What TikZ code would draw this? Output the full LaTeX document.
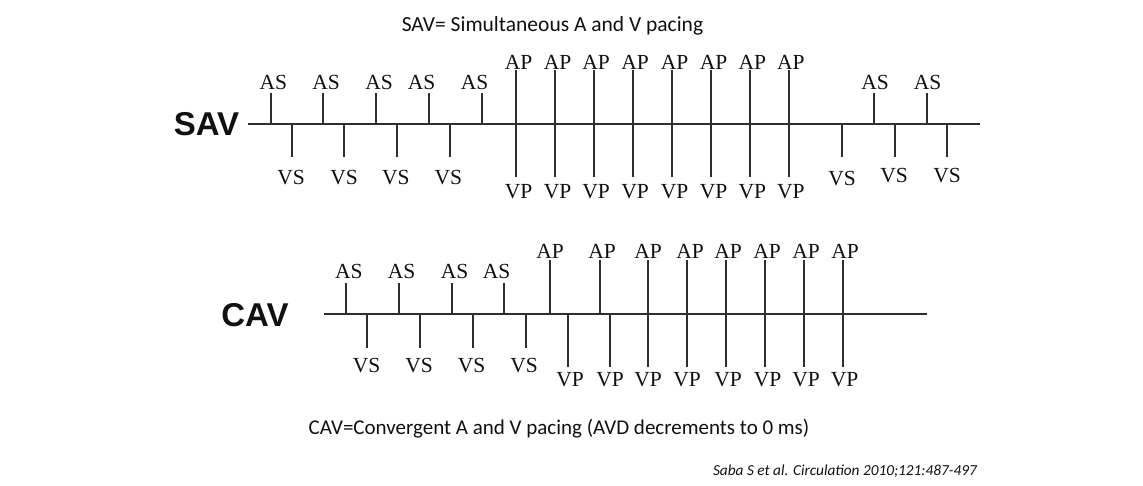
\documentclass[tikz,border=0pt]{standalone}
\usepackage{fontspec}
\setmainfont{Liberation Serif}
\newfontfamily\calibrifont{Carlito}
\newfontfamily\arialfont{Liberation Sans}
\usepackage{tikz}
\usetikzlibrary{positioning}
\definecolor{inkblack}{HTML}{111111}
\definecolor{tickgray}{HTML}{2E2E2E}

\tikzset{
  sig/.style={inkblack, inner sep=0pt, font=\fontsize{21.5}{21.5}\selectfont},
  rowname/.style={inkblack, inner sep=0pt, font=\arialfont\bfseries\fontsize{33}{33}\selectfont},
  caption/.style={inkblack, inner sep=0pt, anchor=base, font=\calibrifont\fontsize{21}{21}\selectfont},
  timeline/.style={draw=tickgray, line width=2pt},
  tick/.style={draw=tickgray, line width=1.8pt}
}

\begin{document}
\begin{tikzpicture}[x=1pt, y=-1pt]
  \useasboundingbox (0,0) rectangle (1143,485);
  \fill[white] (0,0) rectangle (1143,485);

  % Title
  \node[caption, font=\calibrifont\fontsize{21.5}{21.5}\selectfont] (title) at (552.5,31.7) {SAV= Simultaneous A and V pacing};

  % SAV row (axis at y=124)
  \begin{scope}[shift={(0,124)}]
    \node[rowname] (sav) at (206.5,0) {SAV};
    \coordinate (savstart) at (248,0);
    \coordinate (savend) at (980,0);
    \draw[timeline] (savstart) -- (savend);

    % sensed atrial beats
    \foreach \x/\lx [count=\i] in {271/273.3, 323/326, 376/379, 429/421.7, 482/474.5, 874/875, 927/927.5} {
      \draw[tick] (\x,0) -- (\x,-31);
      \node[sig] (savas\i) at (\lx,-42) {AS};
    }
    % sensed ventricular beats
    \foreach \x/\lx/\ly [count=\i] in {292/291/53.5, 344/344/53.5, 397/395.8/53.5, 450/448.3/53.5, 842/842/54.8, 895/894/51.7, 947/947/52} {
      \draw[tick] (\x,0) -- (\x,33);
      \node[sig] (savvs\i) at (\lx,\ly) {VS};
    }
    % simultaneous atrial and ventricular pacing
    \foreach \x/\lx [count=\i] in {516/518.5, 555/557.5, 594/596.2, 633/635, 672/674.5, 711/713.5, 750/752.3, 789/790.8} {
      \draw[tick] (\x,-54) -- (\x,52.7);
      \node[sig] (savap\i) at (\lx,-62) {AP};
      \node[sig] (savvp\i) at (\lx,67.5) {VP};
    }
  \end{scope}

  % CAV row (axis at y=314)
  \begin{scope}[shift={(0,314)}]
    \node[rowname] (cav) at (255,1.5) {CAV};
    \coordinate (cavstart) at (324.3,0);
    \coordinate (cavend) at (927.3,0);
    \draw[timeline] (cavstart) -- (cavend);

    % sensed atrial beats
    \foreach \x/\lx [count=\i] in {346/348.8, 399/401.7, 452/454.5, 504/496.7} {
      \draw[tick] (\x,0) -- (\x,-31.3);
      \node[sig] (cavas\i) at (\lx,-42.7) {AS};
    }
    % sensed ventricular beats
    \foreach \x/\lx [count=\i] in {367/366.5, 420/419, 473/471.7, 526/524} {
      \draw[tick] (\x,0) -- (\x,34.3);
      \node[sig] (cavvs\i) at (\lx,52) {VS};
    }
    % AV delay shrinking
    \foreach \x/\lx [count=\i] in {550/550, 600/602} {
      \draw[tick] (\x,0) -- (\x,-54);
      \node[sig] (cavap\i) at (\lx,-63) {AP};
    }
    \foreach \x/\lx [count=\i] in {568/570, 610/610} {
      \draw[tick] (\x,0) -- (\x,52.7);
      \node[sig] (cavvp\i) at (\lx,66) {VP};
    }
    % converged pacing
    \foreach \x/\la/\lv [count=\i from 3] in {648/648/648, 687/690/687, 726/728/728, 765/767/767.5, 804/806/806, 843/845/844.5} {
      \draw[tick] (\x,-54) -- (\x,52.7);
      \node[sig] (cavap\i) at (\la,-63) {AP};
      \node[sig] (cavvp\i) at (\lv,66) {VP};
    }
  \end{scope}

  % Caption and source
  \node[caption] (cavnote) at (559,434.5) {CAV=Convergent A and V pacing (AVD decrements to 0 ms)};
  \node[caption, anchor=base east, font=\calibrifont\itshape\fontsize{15.3}{15.3}\selectfont] (source) at (977,475) {Saba S et al. Circulation 2010;121:487-497};
\end{tikzpicture}
\end{document}
